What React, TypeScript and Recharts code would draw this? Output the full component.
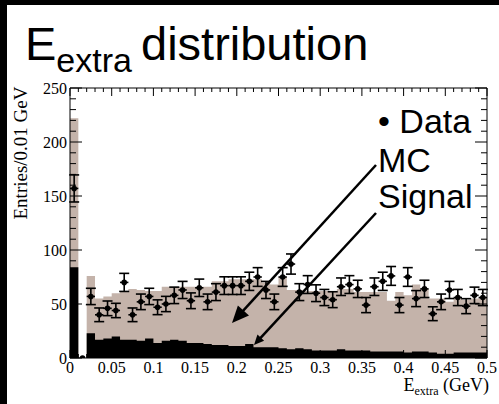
import React from "react";
import {
  ComposedChart,
  Area,
  Scatter,
  ErrorBar,
  XAxis,
  YAxis,
} from "recharts";

// 50 bins of 0.01 GeV between 0 and 0.5 GeV
const BIN_WIDTH = 0.01;

const dataCounts = [
  157, 0, 57, 40, 46, 44, 70, 40, 52, 57,
  47, 50, 58, 63, 53, 65, 52, 61, 67, 67,
  67, 71, 75, 63, 52, 75, 87, 61, 68, 60,
  56, 54, 66, 68, 64, 49, 66, 71, 76, 49,
  75, 55, 64, 41, 52, 63, 56, 48, 58, 56,
];

// total MC (background + signal)
const mcCounts = [
  222, 0, 76, 55, 57, 60, 62, 64, 63, 62,
  62, 66, 66, 66, 66, 66, 66, 71, 71, 73,
  73, 73, 73, 70, 68, 75, 63, 63, 62, 62,
  62, 62, 64, 64, 61, 61, 61, 61, 53, 61,
  58, 68, 64, 55, 55, 52, 55, 54, 55, 56,
];

const signalCounts = [
  84, 0, 23, 17, 18, 20, 17, 17, 16, 18,
  14, 16, 17, 16, 14, 14, 13, 12, 12, 11,
  11, 13, 10, 10, 10, 9, 8, 9, 8, 7,
  7, 7, 8, 7, 7, 7, 6, 6, 6, 6,
  5, 6, 6, 5, 4, 4, 5, 5, 5, 5,
];

const xMajorTicks = [0, 0.05, 0.1, 0.15, 0.2, 0.25, 0.3, 0.35, 0.4, 0.45, 0.5];
const xTickLabels = ["0", "0.05", "0.1", "0.15", "0.2", "0.25", "0.3", "0.35", "0.4", "0.45", "0.5"];
const yMajorTicks = [0, 50, 100, 150, 200, 250];
const yTickLabels = ["0", "50", "100", "150", "200", "250"];

const xMinorTicks = Array.from({ length: 51 }, (_, i) => i / 100);
const yMinorTicks = Array.from({ length: 26 }, (_, i) => i * 10);

// step histogram: one point per left bin edge plus the closing edge
const histData = mcCounts.map((mc, i) => ({
  x: i * BIN_WIDTH,
  mc,
  sig: signalCounts[i],
}));
histData.push({
  x: mcCounts.length * BIN_WIDTH,
  mc: mcCounts[mcCounts.length - 1],
  sig: signalCounts[signalCounts.length - 1],
});

const points = dataCounts.map((n, i) => ({
  x: (i + 0.5) * BIN_WIDTH,
  y: n,
  ey: Math.sqrt(n),
  ex: n > 0 ? BIN_WIDTH / 2 : 0,
}));

const SERIF = '"Liberation Serif", "Times New Roman", serif';
const SANS = '"Liberation Sans", Arial, sans-serif';
const MC_COLOR = "#c4b3aa";

function majorIndex(list: number[], v: number) {
  return list.findIndex((t) => Math.abs(t - v) < 1e-6);
}

function makeXTick(side: "bottom" | "top") {
  return (props: any) => {
    const { x, y, payload } = props;
    const idx = majorIndex(xMajorTicks, payload.value);
    const len = idx >= 0 ? 8 : 4;
    const dir = side === "bottom" ? -1 : 1;
    return (
      <g>
        <line x1={x} x2={x} y1={y} y2={y + dir * len} stroke="#000" strokeWidth={1} />
        {side === "bottom" && idx >= 0 && (
          <text x={x} y={y + 15} textAnchor="middle" fontFamily={SERIF} fontSize={16} fill="#000">
            {xTickLabels[idx]}
          </text>
        )}
      </g>
    );
  };
}

function makeYTick(side: "left" | "right") {
  return (props: any) => {
    const { x, y, payload } = props;
    const idx = majorIndex(yMajorTicks, payload.value);
    const len = idx >= 0 ? 12 : 6;
    const dir = side === "left" ? 1 : -1;
    return (
      <g>
        <line x1={x} x2={x + dir * len} y1={y} y2={y} stroke="#000" strokeWidth={1} />
        {side === "left" && idx >= 0 && (
          <text x={x - 3} y={y + 6} textAnchor="end" fontFamily={SERIF} fontSize={16} fill="#000">
            {yTickLabels[idx]}
          </text>
        )}
      </g>
    );
  };
}

function Arrow({ x1, y1, x2, y2, head, half }: { x1: number; y1: number; x2: number; y2: number; head: number; half: number }) {
  const dx = x2 - x1;
  const dy = y2 - y1;
  const len = Math.hypot(dx, dy);
  const ux = dx / len;
  const uy = dy / len;
  const bx = x2 - head * ux;
  const by = y2 - head * uy;
  const pts = `${x2},${y2} ${bx + half * uy},${by - half * ux} ${bx - half * uy},${by + half * ux}`;
  return (
    <g>
      <line x1={x1} y1={y1} x2={bx + 2 * ux} y2={by + 2 * uy} stroke="#000" strokeWidth={2.5} />
      <polygon points={pts} fill="#000" />
    </g>
  );
}

const axisCommon = {
  type: "number" as const,
  allowDataOverflow: true,
  interval: 0 as const,
  tickSize: 0,
  tickMargin: 0,
  tickLine: false,
  axisLine: { stroke: "#000" },
};

export default function App() {
  return (
    <div style={{ position: "fixed", left: 0, top: 0, width: 499, height: 404, background: "#000", overflow: "hidden" }}>
      <div style={{ position: "absolute", left: 7, top: 5, right: 0, bottom: 0, background: "#fff" }} />
      <div style={{ position: "absolute", left: 0, top: 0 }}>
        <ComposedChart width={499} height={404} margin={{ top: 87, right: 11, bottom: 45, left: 69 }}>
          <XAxis
            {...axisCommon}
            xAxisId={0}
            dataKey="x"
            domain={[0, 0.5]}
            ticks={xMinorTicks}
            height={1}
            tick={makeXTick("bottom")}
          />
          <XAxis
            {...axisCommon}
            xAxisId="top"
            orientation="top"
            dataKey="x"
            domain={[0, 0.5]}
            ticks={xMinorTicks}
            height={1}
            tick={makeXTick("top")}
          />
          <YAxis
            {...axisCommon}
            yAxisId={0}
            dataKey="y"
            domain={[0, 250]}
            ticks={yMinorTicks}
            width={1}
            tick={makeYTick("left")}
          />
          <YAxis
            {...axisCommon}
            yAxisId="right"
            orientation="right"
            domain={[0, 250]}
            ticks={yMinorTicks}
            width={1}
            tick={makeYTick("right")}
          />
          <Area
            data={histData}
            dataKey="mc"
            type="stepAfter"
            fill={MC_COLOR}
            fillOpacity={1}
            stroke="none"
            dot={false}
            activeDot={false}
            isAnimationActive={false}
          />
          <Area
            data={histData}
            dataKey="sig"
            type="stepAfter"
            fill="#000"
            fillOpacity={1}
            stroke="none"
            dot={false}
            activeDot={false}
            isAnimationActive={false}
          />
          <Scatter
            data={points}
            dataKey="y"
            fill="#000"
            isAnimationActive={false}
            shape={(p: any) => <circle cx={p.cx} cy={p.cy} r={2.8} fill="#000" />}
          >
            <ErrorBar dataKey="ey" direction="y" width={5} stroke="#000" strokeWidth={1.6} />
            <ErrorBar dataKey="ex" direction="x" width={0} stroke="#000" strokeWidth={1.6} />
          </Scatter>
        </ComposedChart>
      </div>
      <svg width={499} height={404} style={{ position: "absolute", left: 0, top: 0, pointerEvents: "none" }}>
        <text x={25} y={60} fontFamily={SANS} fontSize={47} fill="#000">
          E<tspan dy={12} fontSize={34}>extra</tspan>
        </text>
        <text x={141} y={60} fontFamily={SANS} fontSize={47} fill="#000">
          distribution
        </text>
        <text
          transform="translate(27,153) rotate(-90)"
          textAnchor="middle"
          fontFamily={SERIF}
          fontSize={19}
          fill="#000"
        >
          Entries/0.01 GeV
        </text>
        <text x={489} y={391} textAnchor="end" fontFamily={SERIF} fontSize={18} fill="#000">
          E<tspan dy={4} fontSize={12}>extra</tspan>
          <tspan dy={-4}> (GeV)</tspan>
        </text>
        <g fontFamily={SANS} fontSize={34} fill="#000">
          <text x={378} y={133}>• Data</text>
          <text x={378} y={172}>MC</text>
          <text x={378} y={208}>Signal</text>
        </g>
        <Arrow x1={376} y1={165} x2={232} y2={323} head={17} half={7.5} />
        <Arrow x1={376} y1={213} x2={254} y2={345} head={10} half={4.5} />
      </svg>
    </div>
  );
}
